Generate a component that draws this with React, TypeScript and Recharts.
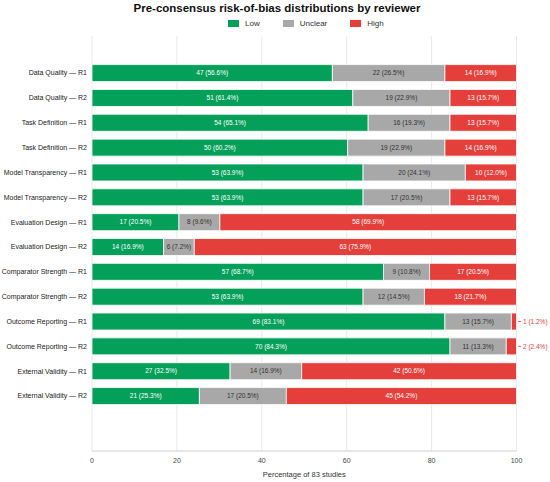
import React from 'react'
import {
  BarChart,
  Bar,
  XAxis,
  YAxis,
  CartesianGrid,
  LabelList,
} from 'recharts'

const TOTAL = 83

const domains = [
  'Data Quality',
  'Task Definition',
  'Model Transparency',
  'Evaluation Design',
  'Comparator Strength',
  'Outcome Reporting',
  'External Validity',
]
const reviewers = ['R1', 'R2']

// counts per row, domain order x reviewer order
const lowCounts = [47, 51, 54, 50, 53, 53, 17, 14, 57, 53, 69, 70, 27, 21]
const unclearCounts = [22, 19, 16, 19, 20, 17, 8, 6, 9, 12, 13, 11, 14, 17]
const highCounts = [14, 13, 13, 14, 10, 13, 58, 63, 17, 18, 1, 2, 42, 45]

const xTicks = [0, 20, 40, 60, 80, 100]

const GREEN = '#04a05a'
const GRAY = '#a8a8a8'
const RED = '#e53f3b'
const FONT = 'Arial, "Liberation Sans", sans-serif'

const pct = (n: number) => (n / TOTAL) * 100
const fmt = (n: number) => `${n} (${pct(n).toFixed(1)}%)`

const labels = domains.flatMap((d) => reviewers.map((r) => `${d} — ${r}`))

const rows = labels.map((name, i) => ({
  name,
  low: pct(lowCounts[i]),
  unclear: pct(unclearCounts[i]),
  high: pct(highCounts[i]),
  lowLabel: fmt(lowCounts[i]),
  unclearLabel: fmt(unclearCounts[i]),
  highLabel: fmt(highCounts[i]),
}))

const makeLabel = (fill: string, outsideFill?: string) => (props: any) => {
  const x = Number(props.x)
  const y = Number(props.y)
  const width = Number(props.width)
  const height = Number(props.height)
  const cy = y + height / 2
  if (outsideFill && width < 20) {
    const ex = x + width
    return (
      <g>
        <line x1={ex + 1.5} x2={ex + 4.5} y1={cy} y2={cy} stroke={outsideFill} strokeWidth={0.8} />
        <text x={ex + 6.5} y={cy} dy="0.35em" fontSize={6.5} fill={outsideFill} fontFamily={FONT}>
          {props.value}
        </text>
      </g>
    )
  }
  return (
    <text
      x={x + width / 2}
      y={cy}
      dy="0.35em"
      textAnchor="middle"
      fontSize={6.5}
      fill={fill}
      fontFamily={FONT}
    >
      {props.value}
    </text>
  )
}

const RowTick = (props: any) => (
  <text
    x={props.x}
    y={props.y}
    dy="0.35em"
    textAnchor="end"
    fontSize={7}
    fill="#222"
    fontFamily={FONT}
  >
    {props.payload.value}
  </text>
)

const legendItems = [
  { label: 'Low', color: GREEN },
  { label: 'Unclear', color: GRAY },
  { label: 'High', color: RED },
]

export default function App() {
  return (
    <div
      style={{
        position: 'absolute',
        left: 0,
        top: 0,
        width: 550,
        height: 482,
        background: '#fff',
        fontFamily: FONT,
      }}
    >
      <div
        style={{
          position: 'absolute',
          top: 2,
          left: 0,
          width: 554,
          textAlign: 'center',
          fontSize: 11.5,
          lineHeight: '12px',
          fontWeight: 'bold',
          color: '#111',
        }}
      >
        Pre-consensus risk-of-bias distributions by reviewer
      </div>
      <div
        style={{
          position: 'absolute',
          top: 19,
          left: 228,
          display: 'flex',
          gap: 23,
          fontSize: 8,
          lineHeight: '9px',
          color: '#333',
        }}
      >
        {legendItems.map((it) => (
          <div key={it.label} style={{ display: 'flex', alignItems: 'center' }}>
            <span
              style={{
                display: 'inline-block',
                width: 11,
                height: 7,
                background: it.color,
                marginRight: 6,
              }}
            />
            <span>{it.label}</span>
          </div>
        ))}
      </div>
      <BarChart
        width={550}
        height={482}
        data={rows}
        layout="vertical"
        margin={{ top: 36, right: 33.5, bottom: 0, left: 0 }}
        style={{ fontFamily: FONT }}
      >
        <CartesianGrid horizontal={false} stroke="#e9e9e9" />
        <XAxis
          type="number"
          domain={[0, 100]}
          ticks={xTicks}
          height={31}
          tickSize={0}
          tickMargin={7}
          tickLine={false}
          axisLine={{ stroke: '#cfcfcf' }}
          tick={{ fontSize: 7, fill: '#444' }}
          label={{
            value: 'Percentage of 83 studies',
            position: 'insideBottom',
            offset: 5,
            fontSize: 7.5,
            fill: '#333',
          }}
        />
        <YAxis
          type="category"
          dataKey="name"
          width={92}
          tickSize={0}
          tickMargin={5}
          tickLine={false}
          axisLine={false}
          padding={{ top: 24.6, bottom: 42.6 }}
          tick={<RowTick />}
          interval={0}
        />
        <Bar dataKey="low" stackId="a" fill={GREEN} stroke="#fff" strokeWidth={0.8} barSize={17} isAnimationActive={false}>
          <LabelList dataKey="lowLabel" content={makeLabel('#fff')} />
        </Bar>
        <Bar dataKey="unclear" stackId="a" fill={GRAY} stroke="#fff" strokeWidth={0.8} barSize={17} isAnimationActive={false}>
          <LabelList dataKey="unclearLabel" content={makeLabel('#333')} />
        </Bar>
        <Bar dataKey="high" stackId="a" fill={RED} stroke="#fff" strokeWidth={0.8} barSize={17} isAnimationActive={false}>
          <LabelList dataKey="highLabel" content={makeLabel('#fff', RED)} />
        </Bar>
      </BarChart>
    </div>
  )
}
